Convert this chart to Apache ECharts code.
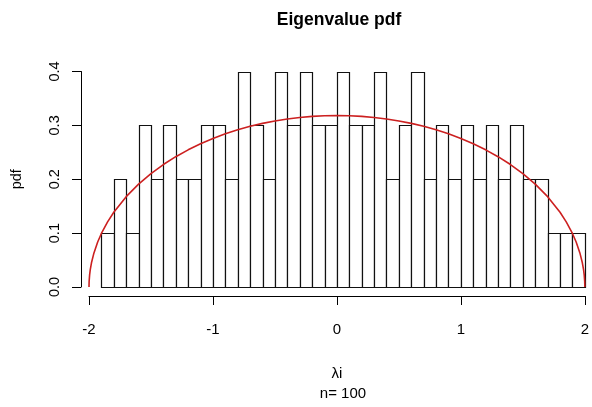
<!DOCTYPE html>
<html>
<head>
<meta charset="utf-8">
<script src="https://cdn.jsdelivr.net/npm/echarts@6/dist/echarts.min.js"></script>
<style>html,body{margin:0;padding:0;background:#fff}#c{width:592px;height:407px}</style>
</head>
<body>
<div id="c"></div>
<script>
// Histogram bin edges (width 0.1) and density of each bin
var binEdges = [-1.9,-1.8,-1.7,-1.6,-1.5,-1.4,-1.3,-1.2,-1.1,-1.0,-0.9,-0.8,-0.7,-0.6,-0.5,-0.4,-0.3,-0.2,-0.1,0,
                0.1,0.2,0.3,0.4,0.5,0.6,0.7,0.8,0.9,1.0,1.1,1.2,1.3,1.4,1.5,1.6,1.7,1.8,1.9,2.0];
var density = [0.1,0.2,0.1,0.3,0.2,0.3,0.2,0.2,0.3,0.3,0.2,0.4,
               0.3,0.2,0.4,0.3,0.4,0.3,0.3,0.4,0.3,0.3,0.4,0.2,0.3,0.4,
               0.2,0.3,0.2,0.3,0.2,0.3,0.2,0.3,0.2,0.2,0.1,0.1,0.1];
// Semicircle curve sample points
var curveX = [-2,-1.999,-1.995,-1.99,-1.98,-1.96,-1.93,-1.9,-1.85,-1.8,-1.7,-1.6,-1.5,-1.4,-1.3,-1.2,-1.1,-1.0,-0.9,-0.8,-0.7,-0.6,-0.5,-0.4,-0.3,-0.2,-0.1,0,
              0.1,0.2,0.3,0.4,0.5,0.6,0.7,0.8,0.9,1.0,1.1,1.2,1.3,1.4,1.5,1.6,1.7,1.8,1.85,1.9,1.93,1.96,1.98,1.99,1.995,1.999,2];
var curveY = [0,0.0101,0.0225,0.0318,0.0449,0.0633,0.0835,0.0994,0.1209,0.1387,0.1677,0.1910,0.2105,0.2273,0.2419,0.2546,0.2658,0.2757,0.2843,0.2917,0.2982,0.3037,0.3082,0.3119,0.3147,0.3167,0.3179,0.3183,
              0.3179,0.3167,0.3147,0.3119,0.3082,0.3037,0.2982,0.2917,0.2843,0.2757,0.2658,0.2546,0.2419,0.2273,0.2105,0.1910,0.1677,0.1387,0.1209,0.0994,0.0835,0.0633,0.0449,0.0318,0.0225,0.0101,0];
var xTicks = [-2,-1,0,1,2];
var yTicks = [0,0.1,0.2,0.3,0.4];

var histData = density.map(function(d,i){ return [binEdges[i], binEdges[i+1], d]; });
var curveData = curveX.map(function(x,i){ return [x, curveY[i]]; });

var FONT = '"Liberation Sans", Arial, Helvetica, sans-serif';
var chart = echarts.init(document.getElementById('c'), null, {renderer:'canvas'});
chart.setOption({
  animation:false,
  backgroundColor:'#fff',
  graphic:[
    {type:'text', x:339, y:11,
     style:{text:'Eigenvalue pdf', fill:'#000', font:'bold 17.5px ' + FONT, textAlign:'center', textVerticalAlign:'top'}},
    {type:'text', x:343, y:386,
     style:{text:'n= 100', fill:'#000', font:'15px ' + FONT, textAlign:'center', textVerticalAlign:'top'}}
  ],
  grid:{left:89, right:4, top:71.5, bottom:120, containLabel:false},
  xAxis:{type:'value', min:xTicks[0], max:xTicks[xTicks.length-1], interval:1, offset:9,
    axisLine:{show:true, onZero:false, lineStyle:{color:'#000', width:1}},
    axisTick:{show:true, length:9, lineStyle:{color:'#000', width:1}},
    axisLabel:{margin:26, color:'#000', fontFamily:FONT, fontSize:15},
    splitLine:{show:false},
    name:'λi', nameLocation:'middle', nameGap:70,
    nameTextStyle:{color:'#000', fontFamily:FONT, fontSize:15}},
  yAxis:{type:'value', min:yTicks[0], max:yTicks[yTicks.length-1], interval:0.1, offset:8,
    axisLine:{show:true, onZero:false, lineStyle:{color:'#000', width:1}},
    axisTick:{show:true, length:9, lineStyle:{color:'#000', width:1}},
    axisLabel:{rotate:90, margin:19, color:'#000', fontFamily:FONT, fontSize:14.5,
      formatter:function(v){return v.toFixed(1);}},
    splitLine:{show:false},
    name:'pdf', nameLocation:'middle', nameGap:57, nameRotate:90,
    nameTextStyle:{color:'#000', fontFamily:FONT, fontSize:14.5}},
  series:[
    {type:'custom', data:histData, clip:false,
     encode:{x:[0,1], y:2},
     renderItem:function(params, api){
       var p0 = api.coord([api.value(0), api.value(2)]);
       var p1 = api.coord([api.value(1), 0]);
       var x0 = Math.round(p0[0]), y0 = Math.round(p0[1]);
       var x1 = Math.round(p1[0]), y1 = Math.round(p1[1]);
       return {type:'rect', shape:{x:x0+0.5, y:y0+0.5, width:x1-x0, height:y1-y0},
               style:{fill:'#fff', stroke:'#111', lineWidth:1.2}};
     }},
    {type:'line', data:curveData, showSymbol:false, smooth:false,
     lineStyle:{color:'#cc2020', width:1.6}}
  ]
});
</script>
</body>
</html>
